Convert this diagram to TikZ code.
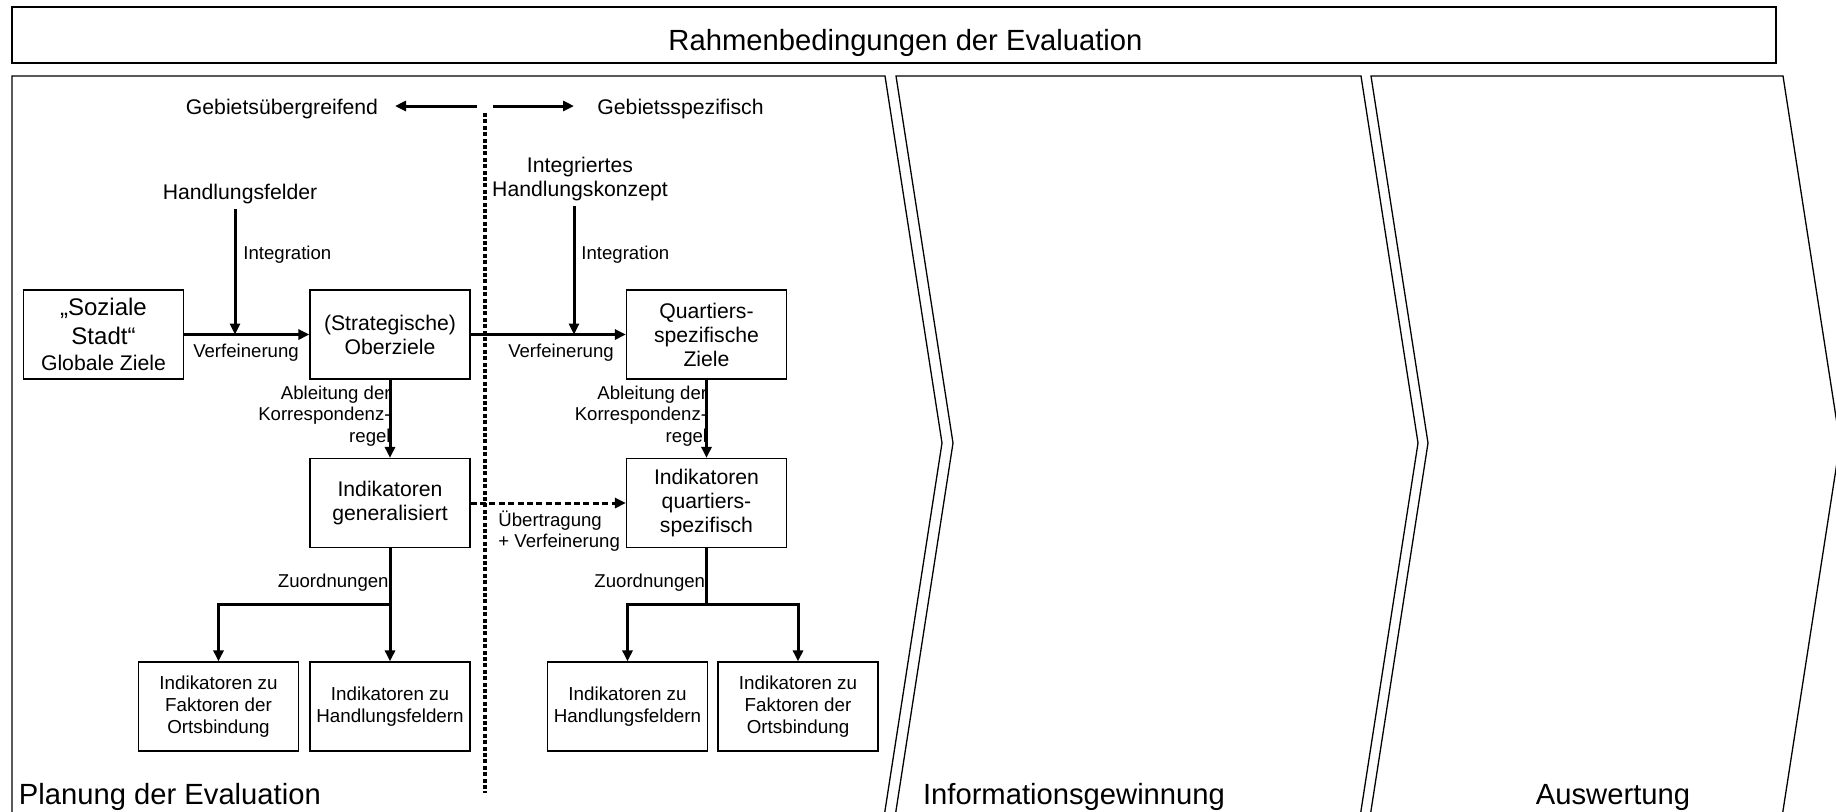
\documentclass[tikz,border=0pt]{standalone}
\usepackage{fontspec}
\setmainfont{Liberation Sans}
\usetikzlibrary{arrows.meta}

\tikzset{
    zbox/.style={draw, line width=0.6pt, minimum width=80pt, minimum height=44.5pt,
        inner sep=0pt, align=center, font=\fontsize{10.6}{12}\selectfont},
    ibox/.style={zbox, font=\fontsize{9.4}{11}\selectfont},
    lbl/.style={inner sep=0pt, font=\fontsize{9.3}{10.8}\selectfont},
    head/.style={inner xsep=0pt, inner ysep=2pt, align=center, font=\fontsize{10.6}{12}\selectfont},
    phase/.style={inner sep=0pt, anchor=base, font=\fontsize{14.6}{17}\selectfont},
    arr/.style={line width=1.5pt, -{Triangle[length=5.5pt,width=5pt]}},
    dasharr/.style={arr, dash pattern=on 3pt off 1.7pt},
    border/.style={line width=0.65pt, line join=miter},
}

\begin{document}
\begin{tikzpicture}[x=0.5pt, y=-0.5pt]
                \useasboundingbox (0,0) rectangle (1836,811);
                \clip (0,0) rectangle (1836,811);
                \node (rahmen) at (894,35) [draw, border, minimum width=882pt, minimum height=28pt] {};
                \node (rtitel) at (905.5,50) [phase] {Rahmenbedingungen der Evaluation};
                \draw (12,830)--(12,76)--(885,76)--(942,443)--(882,830) [border];
                \draw (893,830)--(953,443)--(896,76)--(1361,76)--(1418,443)--(1358,830) [border];
                \draw (1368,830)--(1428,443)--(1371,76)--(1783,76)--(1840,443)--(1780,830) [border];
                \coordinate (dtop) at (485,113);
                \coordinate (dbot) at (485,793);
                \draw (dtop)--(dbot) [line width=2pt, dash pattern=on 2pt off 1.2pt];
                \node (gueb) at (282,109) [head] {Gebietsübergreifend};
                \node (gspez) at (680.5,109) [head] {Gebietsspezifisch};
                \coordinate (gl0) at (477,106);
                \coordinate (gl1) at (395,106);
                \coordinate (gr0) at (493,106);
                \coordinate (gr1) at (574,106);
                \draw (gl0)--(gl1) [arr];
                \draw (gr0)--(gr1) [arr];
                \node (glob) at (103.5,334.5) [zbox, font=\fontsize{12}{14.5}\selectfont] {„Soziale\\Stadt“\\[-1.5pt]\fontsize{10.6}{12}\selectfont Globale Ziele};
                \node (ober) at (390,334.5) [zbox] {(Strategische)\\Oberziele};
                \node (qziel) at (706.5,334.5) [zbox] {Quartiers-\\spezifische\\Ziele};
                \node (igen) at (390,503) [zbox] {Indikatoren\\generalisiert};
                \node (iqs) at (706.5,503) [zbox] {Indikatoren\\quartiers-\\spezifisch};
                \node (fakL) at (218.5,706.5) [ibox] {Indikatoren zu\\Faktoren der\\Ortsbindung};
                \node (hfL) at (390,706.5) [ibox] {Indikatoren zu\\Handlungsfeldern};
                \node (hfR) at (627.5,706.5) [ibox] {Indikatoren zu\\Handlungsfeldern};
                \node (fakR) at (798,706.5) [ibox] {Indikatoren zu\\Faktoren der\\Ortsbindung};
                \node (hfeld) at (240,194.5) [head] {Handlungsfelder};
                \coordinate (v1) at (235,334.5);
                \draw (hfeld.south -| v1)--(v1) [arr];
                \node (int1) at (243,255) [lbl, anchor=west] {Integration};
                \draw (glob)--(ober) [arr];
                \node (verf1) at (246,353) [lbl] {Verfeinerung};
                \node (ihk) at (580,179.5) [head] {Integriertes\\Handlungskonzept};
                \coordinate (v2) at (574,334.5);
                \draw (ihk.south -| v2)--(v2) [arr];
                \node (int2) at (581,255) [lbl, anchor=west] {Integration};
                \draw (ober)--(qziel) [arr];
                \node (verf2) at (561,353) [lbl] {Verfeinerung};
                \draw (ober)--(igen) [arr];
                \node (abl1) at (391,416) [lbl, anchor=east, align=right] {Ableitung der\\Korrespondenz-\\regel};
                \draw (qziel)--(iqs) [arr];
                \node (abl2) at (707.5,416) [lbl, anchor=east, align=right] {Ableitung der\\Korrespondenz-\\regel};
                \draw (igen)--(iqs) [dasharr];
                \node (uebt) at (498,531) [lbl, anchor=west, align=left] {Übertragung\\+ Verfeinerung};
                \coordinate (brL) at (390,604);
                \draw (igen)--(brL) [line width=1.5pt];
                \draw (brL)--(hfL) [arr];
                \draw (brL)-|(fakL) [arr];
                \coordinate (brR) at (706.5,604);
                \draw (iqs)--(brR) [line width=1.5pt];
                \draw (brR)-|(hfR) [arr];
                \draw (brR)-|(fakR) [arr];
                \node (zu1) at (389,583) [lbl, anchor=east] {Zuordnungen};
                \node (zu2) at (705.5,583) [lbl, anchor=east] {Zuordnungen};
                \node (ph1) at (18.5,804) [phase, anchor=base west] {Planung der Evaluation};
                \node (ph2) at (1074,804) [phase] {Informationsgewinnung};
                \node (ph3) at (1613,804) [phase] {Auswertung};
            \end{tikzpicture}
\end{document}
